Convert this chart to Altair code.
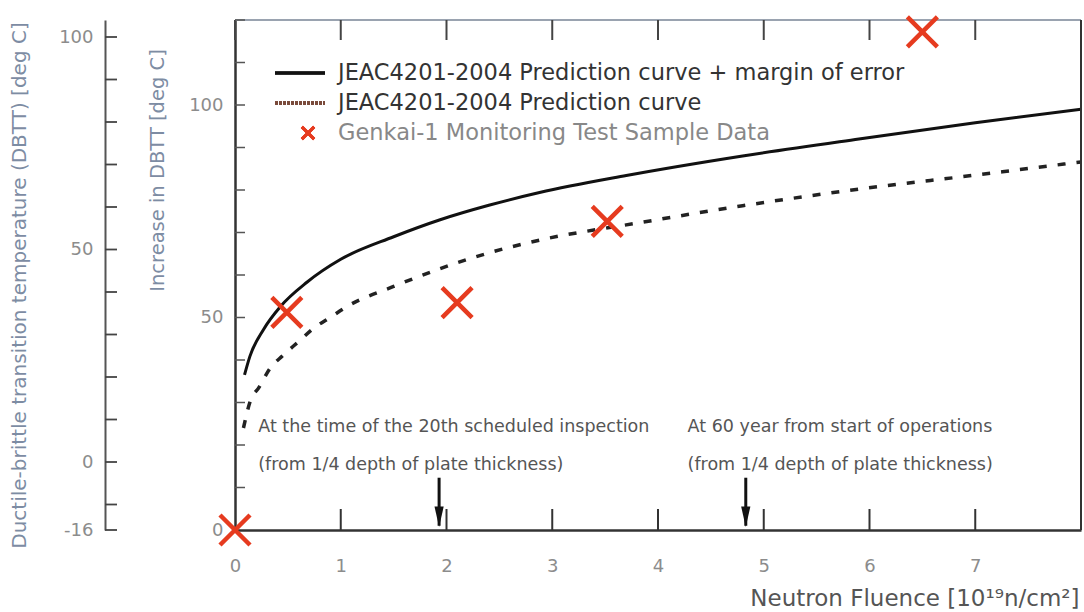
import altair as alt
import pandas as pd

# ---- data ----
solid_x = [0.09, 0.14, 0.27, 0.43, 0.68, 1.0, 1.5, 1.94, 2.4, 2.88, 3.7, 4.8, 5.9, 7.0, 8.0]
solid_y = [36.5, 40.8, 47.2, 52.6, 58.3, 63.7, 69.0, 73.0, 76.4, 79.4, 83.4, 88.0, 92.0, 95.8, 99.0]

dash_x = [0.08, 0.14, 0.23, 0.33, 0.45, 0.6, 0.74, 0.9, 1.06, 1.5, 1.94, 2.4, 2.88, 3.8, 4.8, 5.9, 7.0, 8.0]
dash_y = [24.0, 30.0, 33.7, 38.0, 41.0, 44.3, 47.4, 50.0, 52.6, 57.3, 61.5, 65.2, 68.2, 72.2, 76.3, 80.2, 83.5, 86.6]

sample_x = [0.0, 0.49, 2.1, 3.52, 6.5]
sample_y = [0.0, 51.2, 53.5, 72.6, 117.2]

arrow_x = [1.93, 4.83]
arrow_top = [12.3, 12.3]
arrow_bottom = [1.0, 1.0]

ann_text = ["At the time of the 20th scheduled inspection",
            "(from 1/4 depth of plate thickness)",
            "At 60 year from start of operations",
            "(from 1/4 depth of plate thickness)"]
ann_x = [0.22, 0.22, 4.28, 4.28]
ann_y = [24.3, 15.3, 24.3, 15.3]

x_tick_labels = [0, 1, 2, 3, 4, 5, 6, 7]
inner_labels = [0, 50, 100]
inner_ticks = [10, 20, 30, 40, 50, 60, 70, 80, 90, 100, 110, 120]
outer_labels = [-16, 0, 50, 100]
outer_ticks = [-16, -10, 0, 10, 20, 30, 40, 50, 60, 70, 80, 90, 100]
outer_shift = 16  # increase = DBTT + 16

legend_labels = ["JEAC4201-2004 Prediction curve + margin of error",
                 "JEAC4201-2004 Prediction curve",
                 "Genkai-1 Monitoring Test Sample Data"]

W, H = 846, 510
FONT = "DejaVu Sans"
LABEL_C = "#8c8c8c"
TITLE_C = "#7d8ca3"
CROSS = "M-1,-1L1,1M-1,1L1,-1"
RED = "#e63b1f"

xs = alt.Scale(domain=[0, 8], nice=False, zero=False)
ys = alt.Scale(domain=[0, 120], nice=False, zero=False)

x_axis = alt.Axis(values=x_tick_labels, format="d", ticks=False, tickSize=0, labelPadding=27,
                  labelFontSize=18, labelColor=LABEL_C, labelFont=FONT, labelFlush=False,
                  domainColor="#333333", domainWidth=2.5, grid=False,
                  title="Neutron Fluence [10¹⁹n/cm²]", titleX=W - 2, titleY=68,
                  titleAlign="right", titleBaseline="middle", titleFontSize=23,
                  titleFontWeight="normal", titleColor="#555555", titleFont=FONT)
y_axis = alt.Axis(values=inner_labels, format="d", ticks=False, tickSize=0, labelPadding=12,
                  labelFontSize=18, labelColor=LABEL_C, labelFont=FONT,
                  domainColor="#333333", domainWidth=2.5, grid=False,
                  title="Increase in DBTT [deg C]", titleX=-78, titleY=150,
                  titleAngle=270, titleAlign="center", titleBaseline="middle",
                  titleFontSize=19.5, titleFontWeight="normal", titleColor=TITLE_C, titleFont=FONT)
outer_axis = alt.Axis(values=outer_labels, labelExpr="'' + datum.value", orient="left", offset=130,
                      ticks=False, tickSize=0,
                      labelPadding=12, labelFontSize=18, labelColor=LABEL_C, labelFont=FONT,
                      domainColor="#555555", domainWidth=2, grid=False,
                      title="Ductile-brittle transition temperature (DBTT) [deg C]",
                      titleX=-86, titleY=265, titleAngle=270, titleAlign="center",
                      titleBaseline="middle", titleFontSize=20, titleFontWeight="normal",
                      titleColor=TITLE_C, titleFont=FONT)

solid_df = pd.DataFrame({"x": solid_x, "y": solid_y})
dash_df = pd.DataFrame({"x": dash_x, "y": dash_y})
sample_df = pd.DataFrame({"x": sample_x, "y": sample_y})
arrow_df = pd.DataFrame({"x": arrow_x, "top": arrow_top, "bottom": arrow_bottom})
ann_df = pd.DataFrame({"x": ann_x, "y": ann_y, "t": ann_text})

solid = alt.Chart(solid_df).mark_line(color="#111111", strokeWidth=3, interpolate="monotone").encode(
    x=alt.X("x:Q", scale=xs, axis=x_axis), y=alt.Y("y:Q", scale=ys, axis=y_axis))
dashed = alt.Chart(dash_df).mark_line(color="#222222", strokeWidth=3.5, strokeDash=[8, 11],
                                      interpolate="monotone").encode(x="x:Q", y="y:Q")
samples = alt.Chart(sample_df).mark_point(shape=CROSS, size=900, filled=False, strokeWidth=4.5,
                                          color=RED, opacity=1).encode(x="x:Q", y="y:Q")
shafts = alt.Chart(arrow_df).mark_rule(color="#111111", strokeWidth=3).encode(
    x="x:Q", y="top:Q", y2="bottom:Q")
heads = alt.Chart(arrow_df).mark_point(shape="M-0.45,-1L0,1L0.45,-1Z", size=420, filled=True,
                                       color="#111111", opacity=1).encode(x="x:Q", y="bottom:Q",
                                       yOffset=alt.value(-9))
ann = alt.Chart(ann_df).mark_text(align="left", baseline="middle", font=FONT, fontSize=17.5,
                                  color="#555555").encode(x="x:Q", y="y:Q", text="t:N")

bt_df = pd.DataFrame({"v": x_tick_labels[1:]})
bottom_ticks = alt.Chart(bt_df).mark_rule(color="#333333", strokeWidth=2).encode(
    x="v:Q", y=alt.value(H), y2=alt.value(H - 21))
tt_df = pd.DataFrame({"v": x_tick_labels})
top_ticks = alt.Chart(tt_df).mark_rule(color="#444444", strokeWidth=2).encode(
    x="v:Q", y=alt.value(0), y2=alt.value(20))
it_df = pd.DataFrame({"v": inner_ticks})
inner_tk = alt.Chart(it_df).mark_rule(color="#555555", strokeWidth=1.5).encode(
    y="v:Q", x=alt.value(0), x2=alt.value(10))
ot_df = pd.DataFrame({"v": outer_ticks})
outer_tk = alt.Chart(ot_df).transform_calculate(inner=f"datum.v + {outer_shift}").mark_rule(
    color="#444444", strokeWidth=1.8).encode(y="inner:Q", x=alt.value(-130), x2=alt.value(-118))

top_border = alt.Chart(tt_df).mark_rule(color="#9aa3b0", strokeWidth=2).encode(
    x=alt.value(0), x2=alt.value(W), y=alt.value(0))
right_border = alt.Chart(tt_df).mark_rule(color="#333333", strokeWidth=2).encode(
    x=alt.value(W), y=alt.value(0), y2=alt.value(H))

leg_df = pd.DataFrame({"t": legend_labels})
leg_line1 = alt.Chart(leg_df).mark_rule(color="#111111", strokeWidth=3).encode(
    x=alt.value(40), x2=alt.value(90), y=alt.value(53))
leg_line2 = alt.Chart(leg_df).mark_rule(color="#7a4a3a", strokeWidth=3.5, strokeDash=[3, 1]).encode(
    x=alt.value(40), x2=alt.value(90), y=alt.value(83))
leg_cross = alt.Chart(leg_df).mark_point(shape=CROSS, size=150, filled=False, strokeWidth=3,
                                         color=RED, opacity=1).encode(x=alt.value(73), y=alt.value(113))
leg_t1 = alt.Chart(leg_df).transform_filter(alt.datum.t == legend_labels[0]).mark_text(
    align="left", baseline="middle", font=FONT, fontSize=22.5, color="#333333").encode(
    x=alt.value(103), y=alt.value(53), text="t:N")
leg_t2 = alt.Chart(leg_df).transform_filter(alt.datum.t == legend_labels[1]).mark_text(
    align="left", baseline="middle", font=FONT, fontSize=22.5, color="#333333").encode(
    x=alt.value(103), y=alt.value(83), text="t:N")
leg_t3 = alt.Chart(leg_df).transform_filter(alt.datum.t == legend_labels[2]).mark_text(
    align="left", baseline="middle", font=FONT, fontSize=22.5, color="#888888").encode(
    x=alt.value(103), y=alt.value(113), text="t:N")

main = alt.layer(solid, dashed, top_border, right_border, bottom_ticks, top_ticks, inner_tk,
                 outer_tk, shafts, heads, ann, samples, leg_line1, leg_line2, leg_cross,
                 leg_t1, leg_t2, leg_t3)

ol_df = pd.DataFrame({"v": outer_labels})
outer = alt.Chart(ol_df).mark_point(opacity=0).encode(
    y=alt.Y("v:Q", scale=alt.Scale(domain=[-outer_shift, 120 - outer_shift], nice=False, zero=False),
            axis=outer_axis))

chart = alt.layer(main, outer).resolve_scale(y="independent").properties(
    width=W, height=H,
    autosize=alt.AutoSizeParams(type="none"),
    padding={"left": 235, "top": 20, "right": 3, "bottom": 82},
    background="white",
).configure_view(stroke=None).configure(font=FONT)

chart.save("out.html", embed_options={"renderer": "svg", "actions": False})
